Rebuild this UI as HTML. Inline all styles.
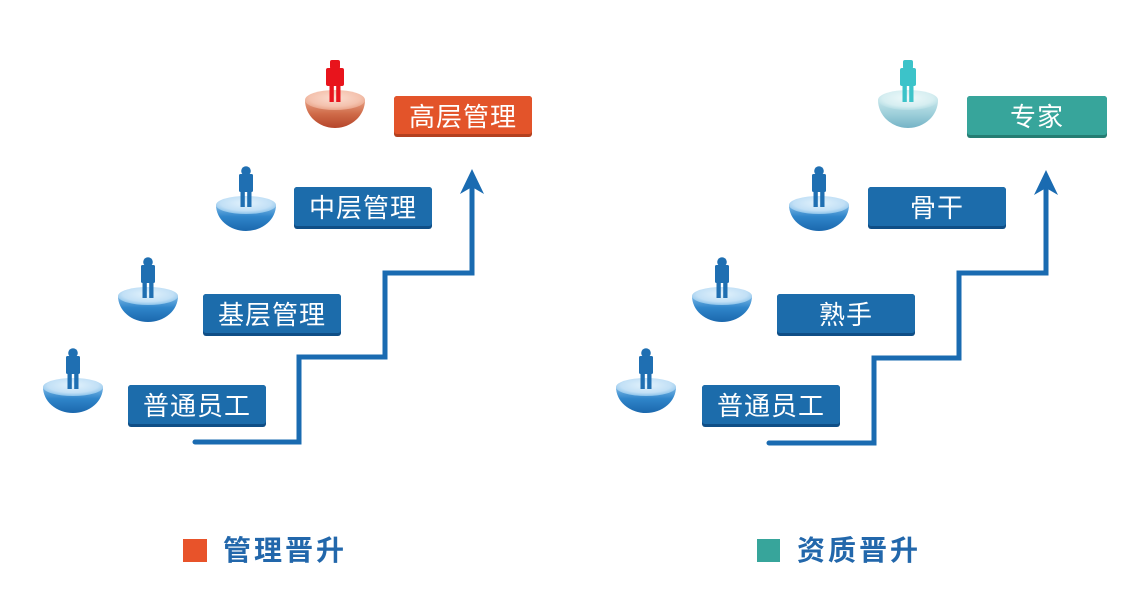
<!DOCTYPE html>
<html>
<head>
<meta charset="utf-8">
<style>
html,body{margin:0;padding:0;background:#fff;}
body{width:1132px;height:594px;overflow:hidden;}
svg{display:block;}
.bt{font-family:"Liberation Sans","Noto Sans CJK SC",sans-serif;font-size:26px;fill:#fff;letter-spacing:1px;}
.lg{font-family:"Liberation Sans","Noto Sans CJK SC",sans-serif;font-size:28px;font-weight:bold;fill:#2267ab;letter-spacing:3px;}
</style>
</head>
<body>
<svg width="1132" height="594" viewBox="0 0 1132 594" xmlns="http://www.w3.org/2000/svg">
<defs>
  <radialGradient id="bTop" cx="50%" cy="40%" r="60%">
    <stop offset="0" stop-color="#e2f2fc"/>
    <stop offset="0.7" stop-color="#c2e0f6"/>
    <stop offset="1" stop-color="#8cc3ea"/>
  </radialGradient>
  <linearGradient id="bLow" x1="0" y1="0" x2="0" y2="1">
    <stop offset="0" stop-color="#7db9e6"/>
    <stop offset="0.45" stop-color="#2f85ca"/>
    <stop offset="1" stop-color="#1b68ad"/>
  </linearGradient>
  <radialGradient id="rTop" cx="50%" cy="40%" r="60%">
    <stop offset="0" stop-color="#fbdccf"/>
    <stop offset="0.7" stop-color="#f4c2ae"/>
    <stop offset="1" stop-color="#e9a58b"/>
  </radialGradient>
  <linearGradient id="rLow" x1="0" y1="0" x2="0" y2="1">
    <stop offset="0" stop-color="#e7a084"/>
    <stop offset="0.5" stop-color="#cf6a48"/>
    <stop offset="1" stop-color="#b5452a"/>
  </linearGradient>
  <radialGradient id="tTop" cx="50%" cy="40%" r="60%">
    <stop offset="0" stop-color="#eef9fa"/>
    <stop offset="0.7" stop-color="#d6eef1"/>
    <stop offset="1" stop-color="#b5dde4"/>
  </radialGradient>
  <linearGradient id="tLow" x1="0" y1="0" x2="0" y2="1">
    <stop offset="0" stop-color="#c6e5ea"/>
    <stop offset="0.5" stop-color="#9dcfda"/>
    <stop offset="1" stop-color="#75b3c6"/>
  </linearGradient>

  <g id="pBlue">
    <path d="M-30,39 A30,26 0 0 0 30,39 Z" fill="url(#bLow)"/>
    <ellipse cx="0" cy="39" rx="30" ry="9" fill="url(#bTop)"/>
    <circle cx="0" cy="5" r="4.8" fill="#1f6fb2"/>
    <rect x="-7" y="8" width="14" height="18" rx="1.5" fill="#1f6fb2"/>
    <rect x="-5.5" y="24" width="4.3" height="17" fill="#1f6fb2"/>
    <rect x="1.2" y="24" width="4.3" height="17" fill="#1f6fb2"/>
  </g>
  <g id="pRed">
    <path d="M-30,40 A30,28 0 0 0 30,40 Z" fill="url(#rLow)"/>
    <ellipse cx="0" cy="40" rx="30" ry="10" fill="url(#rTop)"/>
    <rect x="-5" y="0" width="10" height="9" rx="2" fill="#e8141c"/>
    <rect x="-9" y="8" width="18" height="18" rx="2" fill="#e8141c"/>
    <rect x="-5.5" y="24" width="4.3" height="18" fill="#e8141c"/>
    <rect x="1.2" y="24" width="4.3" height="18" fill="#e8141c"/>
  </g>
  <g id="pTeal">
    <path d="M-30,40 A30,28 0 0 0 30,40 Z" fill="url(#tLow)"/>
    <ellipse cx="0" cy="40" rx="30" ry="10" fill="url(#tTop)"/>
    <rect x="-5" y="0" width="10" height="9" rx="2" fill="#3cc3c9"/>
    <rect x="-8" y="8" width="16" height="18" rx="2" fill="#3cc3c9"/>
    <rect x="-5.5" y="24" width="4.3" height="18" fill="#3cc3c9"/>
    <rect x="1.2" y="24" width="4.3" height="18" fill="#3cc3c9"/>
  </g>
</defs>

<rect width="1132" height="594" fill="#fff"/>

<!-- LEFT staircase -->
<path d="M195,442 H299 V357 H385 V273 H472 V186" fill="none" stroke="#1a6bb1" stroke-width="5" stroke-linejoin="miter" stroke-linecap="round"/>
<polygon points="472,169 484,194 472,187 460,194" fill="#1a6bb1"/>

<!-- RIGHT staircase -->
<path d="M769,443 H874 V358 H959 V273 H1046 V186" fill="none" stroke="#1a6bb1" stroke-width="5" stroke-linejoin="miter" stroke-linecap="round"/>
<polygon points="1046,170 1058,195 1046,188 1034,195" fill="#1a6bb1"/>

<!-- persons left -->
<use href="#pBlue" transform="translate(73,348)"/>
<use href="#pBlue" transform="translate(148,257)"/>
<use href="#pBlue" transform="translate(246,166)"/>
<use href="#pRed" transform="translate(335,60)"/>

<!-- persons right -->
<use href="#pBlue" transform="translate(646,348)"/>
<use href="#pBlue" transform="translate(722,257)"/>
<use href="#pBlue" transform="translate(819,166)"/>
<use href="#pTeal" transform="translate(908,60)"/>

<!-- boxes left -->
<rect x="394" y="96" width="138" height="41" rx="3" fill="#b3401f"/>
<rect x="394" y="96" width="138" height="38" rx="3" fill="#e3542a"/>
<text class="bt" x="463" y="126" text-anchor="middle">高层管理</text>

<rect x="294" y="187" width="138" height="42" rx="3" fill="#0f4e86"/>
<rect x="294" y="187" width="138" height="39" rx="3" fill="#1c6cab"/>
<text class="bt" x="363" y="217" text-anchor="middle">中层管理</text>

<rect x="203" y="294" width="138" height="42" rx="3" fill="#0f4e86"/>
<rect x="203" y="294" width="138" height="39" rx="3" fill="#1c6cab"/>
<text class="bt" x="272" y="324" text-anchor="middle">基层管理</text>

<rect x="128" y="385" width="138" height="42" rx="3" fill="#0f4e86"/>
<rect x="128" y="385" width="138" height="39" rx="3" fill="#1c6cab"/>
<text class="bt" x="197" y="415" text-anchor="middle">普通员工</text>

<!-- boxes right -->
<rect x="967" y="96" width="140" height="42" rx="3" fill="#257d73"/>
<rect x="967" y="96" width="140" height="39" rx="3" fill="#37a59b"/>
<text class="bt" x="1037" y="126" text-anchor="middle">专家</text>

<rect x="868" y="187" width="138" height="42" rx="3" fill="#0f4e86"/>
<rect x="868" y="187" width="138" height="39" rx="3" fill="#1c6cab"/>
<text class="bt" x="937" y="217" text-anchor="middle">骨干</text>

<rect x="777" y="294" width="138" height="42" rx="3" fill="#0f4e86"/>
<rect x="777" y="294" width="138" height="39" rx="3" fill="#1c6cab"/>
<text class="bt" x="846" y="324" text-anchor="middle">熟手</text>

<rect x="702" y="385" width="138" height="42" rx="3" fill="#0f4e86"/>
<rect x="702" y="385" width="138" height="39" rx="3" fill="#1c6cab"/>
<text class="bt" x="771" y="415" text-anchor="middle">普通员工</text>

<!-- legend -->
<rect x="183" y="539" width="24" height="23" fill="#e8532a"/>
<text class="lg" x="223" y="560">管理晋升</text>
<rect x="757" y="539" width="23" height="23" fill="#37a59b"/>
<text class="lg" x="797" y="560">资质晋升</text>
</svg>
</body>
</html>
